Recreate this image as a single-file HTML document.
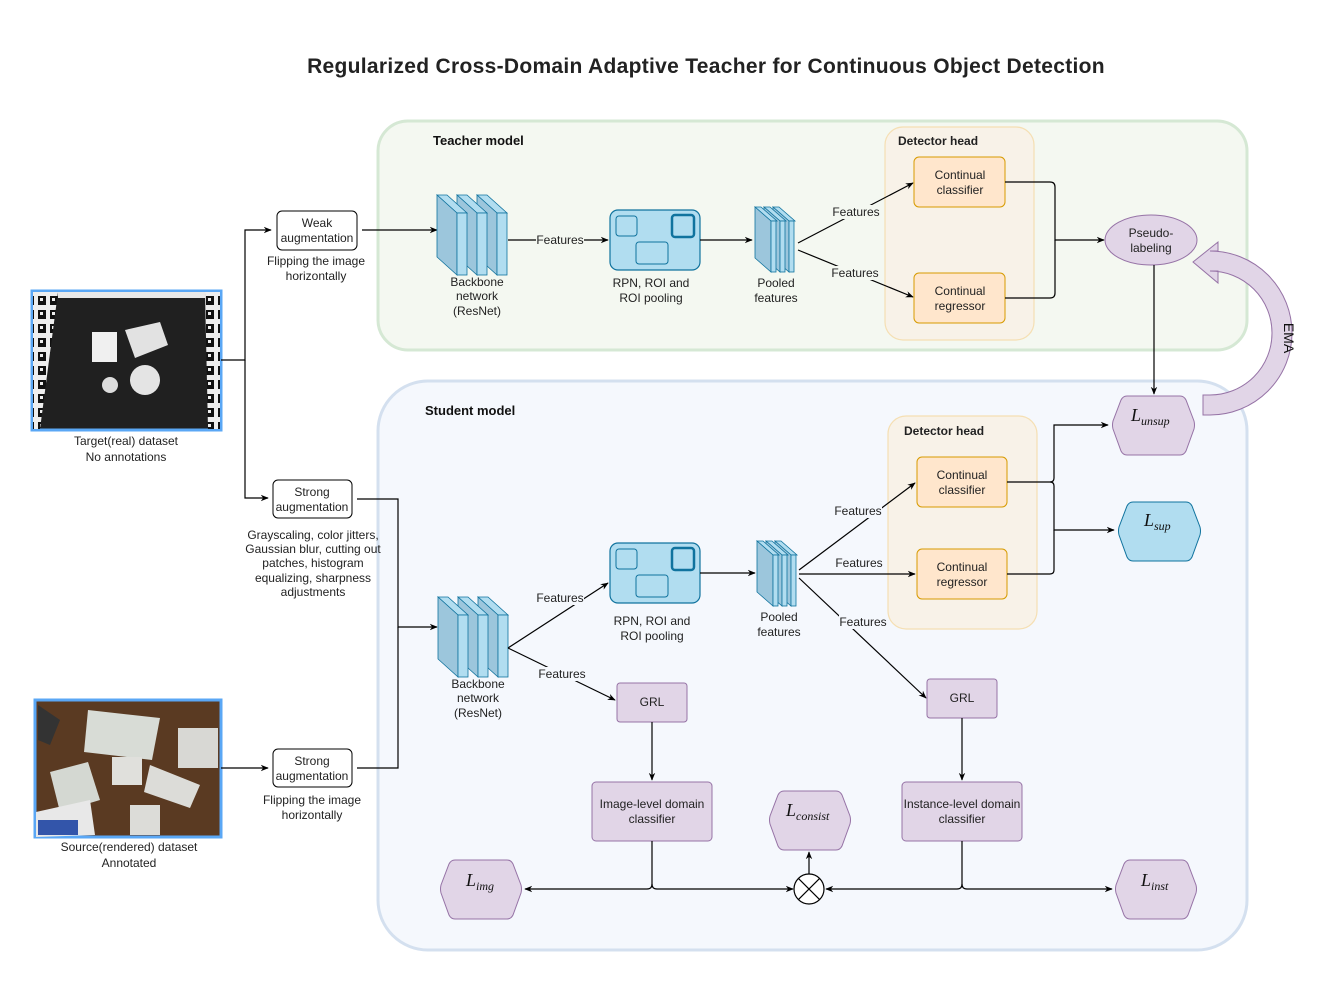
<!DOCTYPE html>
<html><head><meta charset="utf-8"><style>
html,body{margin:0;padding:0;background:#fff;}
svg{display:block;font-family:"Liberation Sans",Arial,sans-serif;}
.t{font-size:12px;fill:#222;text-anchor:middle;}
.b{font-size:13px;font-weight:bold;fill:#111;}
.m{font-family:"Liberation Serif",serif;font-style:italic;fill:#111;}
.ln{stroke:#000;stroke-width:1.2;fill:none;}
</style></head><body>
<svg width="1337" height="982" viewBox="0 0 1337 982" xmlns="http://www.w3.org/2000/svg">
<defs>
<marker id="a" viewBox="0 0 10 10" refX="9" refY="5" markerWidth="8" markerHeight="8" orient="auto-start-reverse" markerUnits="userSpaceOnUse"><path d="M0,1 L10,5 L0,9 L3,5 Z" fill="#000"/></marker>
<pattern id="mk" width="12" height="14" patternUnits="userSpaceOnUse"><rect width="12" height="14" fill="#eee"/><rect x="2" y="2" width="8" height="9" fill="#111"/><rect x="4" y="4" width="3" height="3" fill="#eee"/></pattern>
<g id="slab"><polygon points="0,0 10,0 30,18 20,18" fill="#b1ddf0" stroke="#10739e" stroke-width="0.8"/><polygon points="0,0 20,18 20,80 0,62" fill="#9cc6dc" stroke="#10739e" stroke-width="0.8"/><rect x="20" y="18" width="10" height="62" fill="#b1ddf0" stroke="#10739e" stroke-width="0.8"/></g>
<g id="bb"><use href="#slab" x="40"/><use href="#slab" x="20"/><use href="#slab" x="0"/></g>
<g id="pslab"><polygon points="0,0 6,0 22,14 16,14" fill="#b1ddf0" stroke="#10739e" stroke-width="0.8"/><polygon points="0,0 16,14 16,65 0,51" fill="#9cc6dc" stroke="#10739e" stroke-width="0.8"/><rect x="16" y="14" width="5" height="51" fill="#b1ddf0" stroke="#10739e" stroke-width="0.8"/></g>
<g id="pf"><use href="#pslab" x="18"/><use href="#pslab" x="9"/><use href="#pslab" x="0"/></g>
<g id="rpn"><rect x="0" y="0" width="90" height="60" rx="8" fill="#b1ddf0" stroke="#10739e" stroke-width="1.2"/><rect x="6" y="6" width="21" height="20" rx="3" fill="#b1ddf0" stroke="#10739e"/><rect x="62" y="5" width="22" height="22" rx="3" fill="#b1ddf0" stroke="#10739e" stroke-width="2.5"/><rect x="26" y="32" width="32" height="22" rx="3" fill="#b1ddf0" stroke="#10739e"/></g>
</defs>

<text x="706" y="73" font-size="21" font-weight="bold" text-anchor="middle" fill="#222" letter-spacing="0.3">Regularized Cross-Domain Adaptive Teacher for Continuous Object Detection</text>

<!-- teacher -->
<rect x="378" y="121" width="869" height="229" rx="30" fill="#f4f8f1" stroke="#d5e8d4" stroke-width="3"/>
<text x="433" y="145" class="b">Teacher model</text>
<rect x="885" y="127" width="149" height="213" rx="18" fill="#f8f2e8" stroke="#f5dfb3" stroke-width="1.2"/>
<text x="898" y="145" class="t" style="text-anchor:start;font-weight:bold;">Detector head</text>

<!-- student -->
<rect x="378" y="381" width="869" height="569" rx="50" fill="#f5f8fd" stroke="#d4e0ef" stroke-width="3"/>
<text x="425" y="415" class="b">Student model</text>
<rect x="888" y="416" width="149" height="213" rx="18" fill="#f8f2e8" stroke="#f5dfb3" stroke-width="1.2"/>
<text x="904" y="435" class="t" style="text-anchor:start;font-weight:bold;">Detector head</text>

<!-- images -->
<rect x="32" y="291" width="189" height="139" fill="#202020" stroke="#5aa7f5" stroke-width="3"/>
<polygon points="33,292 58,292 40,429 33,429" fill="url(#mk)"/>
<polygon points="205,292 220,292 220,429 208,429" fill="url(#mk)"/>
<rect x="58" y="292" width="147" height="6" fill="#e8e8e8"/>
<rect x="92" y="332" width="25" height="30" fill="#f0f0f0"/>
<polygon points="125,330 160,322 168,345 135,358" fill="#e2e2e2"/>
<circle cx="110" cy="385" r="8" fill="#ddd"/>
<circle cx="145" cy="380" r="15" fill="#e4e4e4"/>
<text x="126" y="445" class="t">Target(real) dataset</text>
<text x="126" y="461" class="t">No annotations</text>

<rect x="35" y="700" width="186" height="137" fill="#5a3a22" stroke="#5aa7f5" stroke-width="3"/>
<polygon points="88,710 160,718 152,760 84,752" fill="#d8dcd6"/>
<polygon points="50,772 88,762 100,800 60,812" fill="#d4d8d2"/>
<rect x="112" y="757" width="30" height="28" fill="#e0e0dc"/>
<polygon points="150,765 200,785 190,808 144,792" fill="#dcdcd8"/>
<rect x="178" y="728" width="40" height="40" fill="#d8d8d4"/>
<polygon points="36,812 90,800 95,835 36,837" fill="#e8e8e8"/>
<rect x="38" y="820" width="40" height="15" fill="#3355aa"/>
<rect x="130" y="805" width="30" height="30" fill="#dcdcd8"/>
<polygon points="38,705 60,720 50,745 38,740" fill="#333"/>
<text x="129" y="851" class="t">Source(rendered) dataset</text>
<text x="129" y="867" class="t">Annotated</text>

<!-- left connectors -->
<path class="ln" d="M221,360 H245 V230 H271" marker-end="url(#a)"/>
<path class="ln" d="M245,360 V498 H268" marker-end="url(#a)"/>
<path class="ln" d="M221,768 H268" marker-end="url(#a)"/>

<rect x="277" y="211" width="80" height="39" rx="5" fill="#fff" stroke="#000"/>
<text x="317" y="227" class="t">Weak</text><text x="317" y="242" class="t">augmentation</text>
<text x="316" y="265" class="t">Flipping the image</text><text x="316" y="280" class="t">horizontally</text>

<rect x="273" y="480" width="79" height="38" rx="5" fill="#fff" stroke="#000"/>
<text x="312" y="496" class="t">Strong</text><text x="312" y="511" class="t">augmentation</text>
<text x="313" y="539" class="t">Grayscaling, color jitters,</text>
<text x="313" y="553" class="t">Gaussian blur, cutting out</text>
<text x="313" y="567" class="t">patches, histogram</text>
<text x="313" y="582" class="t">equalizing, sharpness</text>
<text x="313" y="596" class="t">adjustments</text>

<rect x="273" y="749" width="79" height="38" rx="5" fill="#fff" stroke="#000"/>
<text x="312" y="765" class="t">Strong</text><text x="312" y="780" class="t">augmentation</text>
<text x="312" y="804" class="t">Flipping the image</text><text x="312" y="819" class="t">horizontally</text>

<!-- teacher flow -->
<path class="ln" d="M362,230 H437" marker-end="url(#a)"/>
<use href="#bb" x="437" y="195"/>
<text x="477" y="286" class="t">Backbone</text><text x="477" y="300" class="t">network</text><text x="477" y="315" class="t">(ResNet)</text>
<path class="ln" d="M508,240 H608" stroke="#555" marker-end="url(#a)"/>
<rect x="536" y="233" width="48" height="14" fill="#f4f8f1"/><text x="560" y="244" class="t">Features</text>
<use href="#rpn" x="610" y="210"/>
<text x="651" y="287" class="t">RPN, ROI and</text><text x="651" y="302" class="t">ROI pooling</text>
<path class="ln" d="M700,240 H752" marker-end="url(#a)"/>
<use href="#pf" x="755" y="207"/>
<text x="776" y="287" class="t">Pooled</text><text x="776" y="302" class="t">features</text>
<path class="ln" d="M798,243 L913,183" marker-end="url(#a)"/>
<path class="ln" d="M798,250 L913,297" marker-end="url(#a)"/>
<rect x="832" y="205" width="48" height="14" fill="#f4f8f1"/><text x="856" y="216" class="t">Features</text>
<rect x="831" y="266" width="48" height="14" fill="#f4f8f1"/><text x="855" y="277" class="t">Features</text>
<rect x="914" y="157" width="91" height="50" rx="5" fill="#ffe6cc" stroke="#d79b00"/>
<text x="960" y="179" class="t">Continual</text><text x="960" y="194" class="t">classifier</text>
<rect x="914" y="273" width="91" height="50" rx="5" fill="#ffe6cc" stroke="#d79b00"/>
<text x="960" y="295" class="t">Continual</text><text x="960" y="310" class="t">regressor</text>
<path class="ln" d="M1005,182 H1050 Q1055,182 1055,187 V240 H1104" marker-end="url(#a)"/>
<path class="ln" d="M1005,298 H1050 Q1055,298 1055,293 V240"/>
<ellipse cx="1151" cy="240" rx="46" ry="25" fill="#e1d5e7" stroke="#9673a6"/>
<text x="1151" y="237" class="t">Pseudo-</text><text x="1151" y="252" class="t">labeling</text>
<path class="ln" d="M1154,265 V394" marker-end="url(#a)"/>

<!-- EMA -->
<path d="M1203,415 L1210,415 A82,82 0 0 0 1210,251 L1218,251 L1218,242 L1193,262 L1218,283 L1218,271 L1210,271 A62,62 0 0 1 1210,395 L1203,395 Z" fill="#e1d5e7" stroke="#9673a6"/>
<text x="1284" y="338" font-size="14" fill="#111" text-anchor="middle" transform="rotate(90 1284 338)">EMA</text>

<!-- student flow -->
<path class="ln" d="M357,499 H398 V627 H437" marker-end="url(#a)"/>
<path class="ln" d="M357,768 H398 V627"/>
<use href="#bb" x="438" y="597"/>
<text x="478" y="688" class="t">Backbone</text><text x="478" y="702" class="t">network</text><text x="478" y="717" class="t">(ResNet)</text>
<path class="ln" d="M508,648 L608,583" marker-end="url(#a)"/>
<path class="ln" d="M508,648 L615,700" marker-end="url(#a)"/>
<rect x="536" y="591" width="48" height="14" fill="#f5f8fd"/><text x="560" y="602" class="t">Features</text>
<rect x="538" y="667" width="48" height="14" fill="#f5f8fd"/><text x="562" y="678" class="t">Features</text>
<use href="#rpn" x="610" y="543"/>
<text x="652" y="625" class="t">RPN, ROI and</text><text x="652" y="640" class="t">ROI pooling</text>
<path class="ln" d="M700,573 H755" marker-end="url(#a)"/>
<use href="#pf" x="757" y="541"/>
<text x="779" y="621" class="t">Pooled</text><text x="779" y="636" class="t">features</text>
<path class="ln" d="M799,570 L915,483" marker-end="url(#a)"/>
<path class="ln" d="M799,574 L915,574" marker-end="url(#a)"/>
<path class="ln" d="M799,578 L926,698" marker-end="url(#a)"/>
<rect x="834" y="504" width="48" height="14" fill="#f5f8fd"/><text x="858" y="515" class="t">Features</text>
<rect x="835" y="556" width="48" height="14" fill="#f5f8fd"/><text x="859" y="567" class="t">Features</text>
<rect x="839" y="615" width="48" height="14" fill="#f5f8fd"/><text x="863" y="626" class="t">Features</text>
<rect x="917" y="457" width="90" height="50" rx="5" fill="#ffe6cc" stroke="#d79b00"/>
<text x="962" y="479" class="t">Continual</text><text x="962" y="494" class="t">classifier</text>
<rect x="917" y="549" width="90" height="50" rx="5" fill="#ffe6cc" stroke="#d79b00"/>
<text x="962" y="571" class="t">Continual</text><text x="962" y="586" class="t">regressor</text>
<path class="ln" d="M1007,482 H1050 Q1054,482 1054,478 V425 H1108" marker-end="url(#a)"/>
<path class="ln" d="M1050,482 Q1054,482 1054,486 V530 H1114" stroke-width="1.8" marker-end="url(#a)"/>
<path class="ln" d="M1007,574 H1050 Q1054,574 1054,570 V530"/>

<path d="M1127,396 H1180 Q1184,396 1186,400 L1194,421 Q1195,425 1194,429 L1186,451 Q1184,455 1180,455 H1127 Q1123,455 1121,451 L1113,429 Q1112,425 1113,421 L1121,400 Q1123,396 1127,396 Z" fill="#e1d5e7" stroke="#9673a6"/>
<text x="1131" y="421" class="m" font-size="18">L<tspan font-size="12" dy="4">unsup</tspan></text>
<path d="M1133,502 H1186 Q1190,502 1192,506 L1200,527 Q1201,531 1200,535 L1192,557 Q1190,561 1186,561 H1133 Q1129,561 1127,557 L1119,535 Q1118,531 1119,527 L1127,506 Q1129,502 1133,502 Z" fill="#b1ddf0" stroke="#10739e"/>
<text x="1144" y="526" class="m" font-size="18">L<tspan font-size="12" dy="4">sup</tspan></text>

<rect x="617" y="683" width="70" height="39" rx="3" fill="#e1d5e7" stroke="#9673a6"/>
<text x="652" y="706" class="t">GRL</text>
<rect x="927" y="679" width="70" height="39" rx="3" fill="#e1d5e7" stroke="#9673a6"/>
<text x="962" y="702" class="t">GRL</text>
<path class="ln" d="M652,722 V780" marker-end="url(#a)"/>
<path class="ln" d="M962,718 V780" marker-end="url(#a)"/>
<rect x="592" y="782" width="120" height="59" rx="4" fill="#e1d5e7" stroke="#9673a6"/>
<text x="652" y="808" class="t">Image-level domain</text><text x="652" y="823" class="t">classifier</text>
<rect x="902" y="782" width="120" height="59" rx="4" fill="#e1d5e7" stroke="#9673a6"/>
<text x="962" y="808" class="t">Instance-level domain</text><text x="962" y="823" class="t">classifier</text>
<path class="ln" d="M652,841 V884 Q652,889 647,889 H525" marker-end="url(#a)"/>
<path class="ln" d="M652,884 Q652,889 657,889 H793" marker-end="url(#a)"/>
<path class="ln" d="M962,841 V884 Q962,889 957,889 H826" marker-end="url(#a)"/>
<path class="ln" d="M962,884 Q962,889 967,889 H1112" marker-end="url(#a)"/>
<circle cx="809" cy="889" r="15" fill="#fff" stroke="#000" stroke-width="1.2"/>
<path class="ln" d="M798.4,878.4 L819.6,899.6 M819.6,878.4 L798.4,899.6"/>
<path class="ln" d="M809,874 V852" marker-end="url(#a)"/>

<path d="M784,791 H836 Q840,791 842,795 L850,816 Q851,820 850,824 L842,846 Q840,850 836,850 H784 Q780,850 778,846 L770,824 Q769,820 770,816 L778,795 Q780,791 784,791 Z" fill="#e1d5e7" stroke="#9673a6"/>
<text x="786" y="816" class="m" font-size="18">L<tspan font-size="12" dy="4">consist</tspan></text>
<path d="M455,860 H507 Q511,860 513,864 L521,885 Q522,889 521,893 L513,915 Q511,919 507,919 H455 Q451,919 449,915 L441,893 Q440,889 441,885 L449,864 Q451,860 455,860 Z" fill="#e1d5e7" stroke="#9673a6"/>
<text x="466" y="886" class="m" font-size="18">L<tspan font-size="12" dy="4">img</tspan></text>
<path d="M1130,860 H1182 Q1186,860 1188,864 L1196,885 Q1197,889 1196,893 L1188,915 Q1186,919 1182,919 H1130 Q1126,919 1124,915 L1116,893 Q1115,889 1116,885 L1124,864 Q1126,860 1130,860 Z" fill="#e1d5e7" stroke="#9673a6"/>
<text x="1141" y="886" class="m" font-size="18">L<tspan font-size="12" dy="4">inst</tspan></text>
</svg>
</body></html>
